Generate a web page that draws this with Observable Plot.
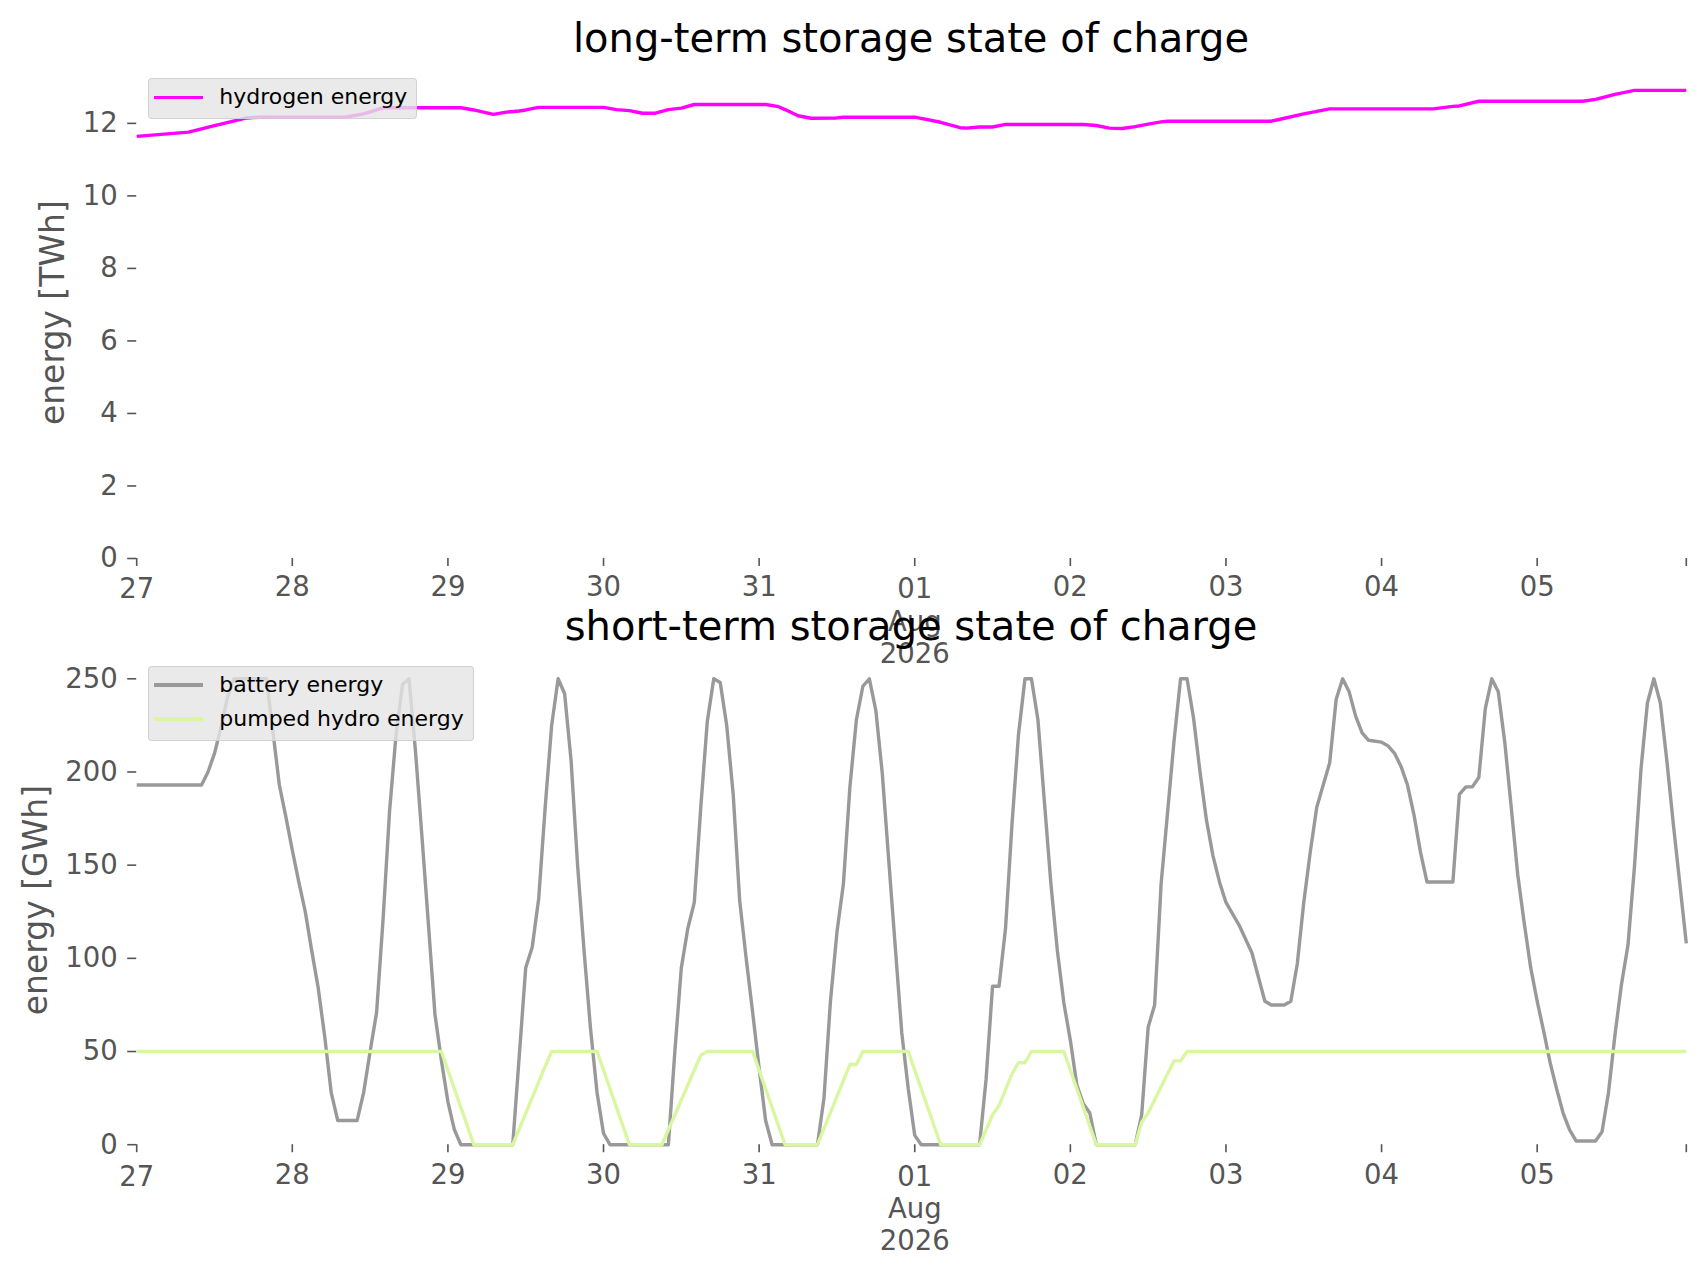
<!DOCTYPE html>
<html><head><meta charset="utf-8">
<script src="https://cdn.jsdelivr.net/npm/d3@7"></script>
<script src="https://cdn.jsdelivr.net/npm/@observablehq/plot@0.6"></script>
<style>
html,body{margin:0;padding:0;background:#fff;}
#root{position:relative;width:1706px;height:1277px;font-family:"DejaVu Sans",sans-serif;overflow:hidden;background:#fff;}
#root svg{position:absolute;left:0;}
.title{position:absolute;left:136px;width:1550px;text-align:center;font-size:40px;line-height:40px;color:#000;white-space:nowrap;}
.legend{position:absolute;background:rgba(229,229,229,0.8);border:1px solid rgba(204,204,204,0.8);border-radius:4px;box-sizing:border-box;}
.swatch{position:absolute;left:5px;width:49px;height:3.4px;}
.ltext{position:absolute;left:70px;font-size:22px;line-height:22px;color:#000;white-space:nowrap;}
</style></head>
<body><div id="root"></div>
<script>
// ---- data (hours since 2026-07-27 00:00 UTC) ----
const startDate = "2026-07-27T00:00:00Z";
const titles = ["long-term storage state of charge", "short-term storage state of charge"];
const yLabels = ["energy [TWh]", "energy [GWh]"];
const seriesNames = ["hydrogen energy", "battery energy", "pumped hydro energy"];
const seriesColors = ["#ff00ff", "#999999", "#d9f7a1"];

const hydrogenHours = [0,8,12,17,19,32,35,38,50,52,55,57,59,60,62,72,74,76,78,80,82,84,86,97,99,100,102,104,108,109,120,124,127,128,130,132,134,146,148,150,152,154,156,158,159,175,176,180,184,200,203,204,207,223,225,228,231,239];
const hydrogenTWh = [11.64,11.76,11.94,12.15,12.17,12.17,12.26,12.43,12.43,12.37,12.25,12.31,12.34,12.37,12.44,12.44,12.38,12.35,12.28,12.28,12.38,12.42,12.52,12.52,12.46,12.38,12.21,12.14,12.15,12.17,12.17,12.03,11.88,11.87,11.90,11.90,11.97,11.97,11.94,11.87,11.86,11.91,11.98,12.04,12.06,12.06,12.10,12.26,12.40,12.40,12.47,12.48,12.61,12.61,12.66,12.80,12.91,12.91];

const batteryHours = [0,10,11,12,13,14,15,20,21,22,23,24,25,26,27,28,29,30,31,34,35,36,37,38,39,40,41,42,43,44,45,46,47,48,49,50,58,60,61,62,63,64,65,66,67,68,69,70,71,72,73,82,83,84,85,86,87,88,89,90,91,92,93,94,95,96,97,98,105,106,107,108,109,110,111,112,113,114,115,116,117,118,119,120,121,130,131,132,133,134,135,136,137,138,139,140,141,142,143,144,145,146,147,148,154,155,156,157,158,160,161,162,163,164,165,166,167,168,170,172,173,174,175,177,178,179,180,181,182,183,184,185,186,187,188,189,190,192,193,194,195,196,197,198,199,203,204,205,206,207,208,209,210,211,212,213,214,215,216,217,218,219,220,221,222,225,226,227,228,229,230,231,232,233,234,235,236,237,238,239];
const batteryGWh = [193,193,200,210,224,240,250,250,222,193,176,158,141,125,104,84,58,28,13,13,28,50,71,121,179,220,247,250,211,165,118,70,45,23,8,0,0,95,106,132,181,225,250,242,206,150,104,62,28,6,0,0,50,95,116,130,181,227,250,248,225,188,131,100,71,41,13,0,0,25,77,114,140,192,228,246,250,233,199,152,106,60,30,5,0,0,35,85,85,116,172,220,250,250,228,184,140,104,76,56,32,22,17,0,0,16,63,75,140,217,250,250,229,200,174,155,141,130,118,103,90,77,75,75,77,97,130,157,181,193,205,239,250,243,230,221,217,216,214,210,203,193,177,157,141,141,188,192,192,197,234,250,243,216,181,145,119,95,77,61,44,30,17,8,2,2,7,28,59,86,107,149,201,237,250,237,206,172,140,108];

const pumpedHours = [0,47,52,58,63,64,71,76,81,87,88,95,100,105,110,111,112,119,124,130,132,133,135,136,137,138,143,148,154,155,156,160,161,162,239];
const pumpedGWh = [50,50,0,0,42,50,50,0,0,48,50,50,0,0,43,43,50,50,0,0,16,21,38,44,44,50,50,0,0,12,17,45,45,50,50];

const dayTickHours = [0,24,48,72,96,120,144,168,192,216];
const endTickHour = 239;
const monthLabel = "Aug";
const yearLabel = "2026";
const longTicks = [0,2,4,6,8,10,12];
const shortTicks = [0,50,100,150,200,250];
const longDomain = [0, 13.56];
const shortDomain = [0, 262.5];

// ---- helpers ----
const t0 = new Date(startDate).getTime();
const toDate = h => new Date(t0 + h * 3600e3);
const rows = (hours, vals) => hours.map((h, i) => ({date: toDate(h), value: vals[i]}));
const xDomain = [toDate(0), toDate(endTickHour)];
const isSpecial = d => { const day = d.getUTCDate(); return d.getTime() === t0 || day === 1; };
const normalTicks = dayTickHours.map(toDate).filter(d => !isSpecial(d));
const specialTicks = dayTickHours.map(toDate).filter(isSpecial);
const endTicks = [toDate(endTickHour)];
const fmt = d => {
  const day = d.getUTCDate();
  const s = String(day).padStart(2, "0");
  return day === 1 ? s + "\n" + monthLabel + "\n" + yearLabel : s;
};

const W = 1706, ML = 136.2, MR = 20.2;
const svgStyle = {fontFamily: "DejaVu Sans, sans-serif", fontSize: "27.5px", color: "#555555", background: "transparent", overflow: "visible"};

function xAxes(pn, ps) {
  const common = {tickSize: 8, fontSize: 27.5, lineHeight: 1.17, strokeWidth: 1.6, label: null};
  return [
    Plot.axisX({...common, ticks: normalTicks, tickFormat: fmt, tickPadding: pn}),
    Plot.axisX({...common, ticks: specialTicks, tickFormat: fmt, tickPadding: ps}),
    Plot.axisX({...common, ticks: endTicks, tickFormat: () => ""})
  ];
}

const topSvg = Plot.plot({
  width: W, height: 680,
  marginLeft: ML, marginRight: MR, marginTop: 66.3, marginBottom: 122,
  style: svgStyle,
  x: {type: "utc", domain: xDomain},
  y: {domain: longDomain},
  marks: [
    Plot.line(rows(hydrogenHours, hydrogenTWh), {x: "date", y: "value", stroke: seriesColors[0], strokeWidth: 3.4, strokeLinecap: "butt"}),
    Plot.axisY({ticks: longTicks, tickSize: 9, tickPadding: 10, fontSize: 27.5, strokeWidth: 1.6, label: null}),
    ...xAxes(6.5, 9),
    Plot.text([yLabels[0]], {text: d => d, frameAnchor: "left", textAnchor: "middle", lineAnchor: "middle", dx: 52.8 - ML, rotate: -90, fontSize: 33, fill: "#555555"})
  ]
});
topSvg.style.top = "0px";

const botSvg = Plot.plot({
  width: W, height: 677,
  marginLeft: ML, marginRight: MR, marginTop: 55, marginBottom: 132.8,
  style: svgStyle,
  x: {type: "utc", domain: xDomain},
  y: {domain: shortDomain},
  marks: [
    Plot.line(rows(batteryHours, batteryGWh), {x: "date", y: "value", stroke: seriesColors[1], strokeWidth: 3.4, strokeLinecap: "butt"}),
    Plot.line(rows(pumpedHours, pumpedGWh), {x: "date", y: "value", stroke: seriesColors[2], strokeWidth: 3.4, strokeLinecap: "butt"}),
    Plot.axisY({ticks: shortTicks, tickSize: 9, tickPadding: 10, fontSize: 27.5, strokeWidth: 1.6, label: null}),
    ...xAxes(8.5, 10),
    Plot.text([yLabels[1]], {text: d => d, frameAnchor: "left", textAnchor: "middle", lineAnchor: "middle", dx: 36 - ML, rotate: -90, fontSize: 33, fill: "#555555"})
  ]
});
botSvg.style.top = "600px";

const root = document.getElementById("root");
root.appendChild(topSvg);
root.appendChild(botSvg);

function legend(left, top, width, items) {
  const box = document.createElement("div");
  box.className = "legend";
  box.style.left = left + "px"; box.style.top = top + "px";
  box.style.width = width + "px"; box.style.height = (7 + items.length * 34) + "px";
  items.forEach((it, i) => {
    const cy = 18 + i * 34;
    const sw = document.createElement("div");
    sw.className = "swatch"; sw.style.top = (cy - 1.7) + "px"; sw.style.background = it.color;
    const tx = document.createElement("div");
    tx.className = "ltext"; tx.style.top = (cy - 11) + "px"; tx.textContent = it.name;
    box.appendChild(sw); box.appendChild(tx);
  });
  root.appendChild(box);
}
legend(148.3, 78.3, 269, [{name: seriesNames[0], color: seriesColors[0]}]);
legend(148.3, 666, 326, [{name: seriesNames[1], color: seriesColors[1]}, {name: seriesNames[2], color: seriesColors[2]}]);

[[titles[0], 18], [titles[1], 606]].forEach(([t, y]) => {
  const d = document.createElement("div");
  d.className = "title"; d.style.top = y + "px"; d.textContent = t;
  root.appendChild(d);
});
</script></body></html>
